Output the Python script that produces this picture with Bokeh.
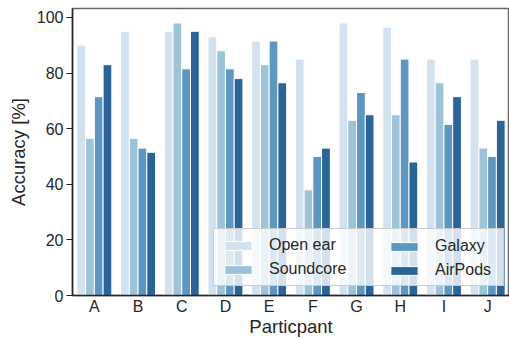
from bokeh.plotting import figure
from bokeh.models import ColumnDataSource, FactorRange, Legend, LegendItem, SingleIntervalTicker
from bokeh.transform import dodge
from bokeh.embed import file_html
from bokeh.resources import INLINE

participants = ["A", "B", "C", "D", "E", "F", "G", "H", "I", "J"]
open_ear = [90, 95, 95, 93, 91.5, 85, 98, 96.5, 85, 85]
soundcore = [56.5, 56.5, 98, 88, 83, 38, 63, 65, 76.5, 53]
galaxy = [71.5, 53, 81.5, 81.5, 91.5, 50, 73, 85, 61.5, 50]
airpods = [83, 51.5, 95, 78, 76.5, 53, 65, 48, 71.5, 63]
series_names = ["Open ear", "Soundcore", "Galaxy", "AirPods"]
colors = ["#d3e2f0", "#9dc3d8", "#5b97c0", "#2b6499"]

source = ColumnDataSource(dict(x=participants, open_ear=open_ear, soundcore=soundcore,
                               galaxy=galaxy, airpods=airpods))

FONT = "Liberation Sans"
p = figure(x_range=FactorRange(*participants, range_padding=0), y_range=(0, 103.2),
           width=509, height=339, output_backend="svg", toolbar_location=None,
           min_border_top=8, min_border_right=0, min_border_left=72, min_border_bottom=0)

keys = ["open_ear", "soundcore", "galaxy", "airpods"]
offsets = [-0.3, -0.1, 0.1, 0.3]
renderers = []
for k, off, c in zip(keys, offsets, colors):
    r = p.vbar(x=dodge("x", off, range=p.x_range), top=k, width=0.2, source=source,
               fill_color=c, line_color="white", line_width=1)
    renderers.append(r)

p.grid.visible = False
p.outline_line_color = "#666666"
p.outline_line_width = 1.5

p.yaxis.ticker = SingleIntervalTicker(interval=20)
p.yaxis.minor_tick_line_color = None
p.yaxis.major_tick_out = 6
p.yaxis.major_tick_in = 0
p.xaxis.major_tick_out = 0
p.xaxis.major_tick_in = 0
for ax in (p.xaxis, p.yaxis):
    ax.axis_line_color = "#262626"
    ax.axis_line_width = 1.5
    ax.major_tick_line_color = "#262626"
    ax.major_tick_line_width = 1.2
    ax.major_label_text_font = FONT
    ax.major_label_text_font_size = "16px"
    ax.major_label_text_color = "#262626"
    ax.axis_label_text_font = FONT
    ax.axis_label_text_font_size = "18.5px"
    ax.axis_label_text_font_style = "normal"
    ax.axis_label_text_color = "#262626"
p.xaxis.axis_label = "Particpant"
p.yaxis.axis_label = "Accuracy [%]"
p.xaxis.major_label_standoff = 2
p.xaxis.axis_label_standoff = -2
p.yaxis.major_label_standoff = 3
p.yaxis.axis_label_standoff = 5

common = dict(label_text_font=FONT, label_text_font_size="16px", label_text_color="#262626",
              glyph_width=34, glyph_height=11, spacing=6, padding=7, margin=0,
              label_standoff=14, label_height=18)

legend1 = Legend(items=[LegendItem(label=n, renderers=[r]) for n, r in zip(series_names[:2], renderers[:2])],
                 location=(141, 9), background_fill_alpha=0.8, border_line_color="#cccccc",
                 border_line_alpha=1, label_width=227, **common)
legend2 = Legend(items=[LegendItem(label=n, renderers=[r]) for n, r in zip(series_names[2:], renderers[2:])],
                 location=(308, 9), background_fill_alpha=0, border_line_alpha=0, **common)
p.add_layout(legend1)
p.add_layout(legend2)

open("out.html", "w").write(file_html(p, INLINE))
